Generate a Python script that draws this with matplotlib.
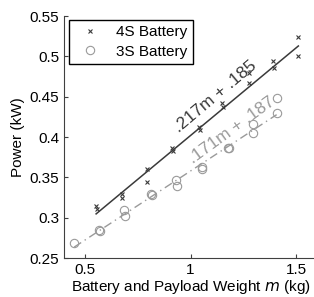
import numpy as np
import matplotlib
matplotlib.use('Agg')
import matplotlib.pyplot as plt

plt.rcParams['font.family'] = ['Liberation Sans', 'DejaVu Sans']

# 4S battery measurements (mass kg, power kW)
m4 = [0.552, 0.555, 0.674, 0.674, 0.792, 0.792, 0.914, 0.916, 1.042, 1.044,
      1.148, 1.152, 1.279, 1.279, 1.392, 1.394, 1.511, 1.511]
p4 = [0.315, 0.311, 0.329, 0.324, 0.361, 0.344, 0.386, 0.383, 0.413, 0.409,
      0.442, 0.437, 0.479, 0.467, 0.494, 0.485, 0.524, 0.500]

# 3S battery measurements
m3 = [0.448, 0.566, 0.570, 0.686, 0.688, 0.814, 0.818, 0.931, 0.936, 1.053,
      1.056, 1.177, 1.181, 1.298, 1.298, 1.408, 1.408]
p3 = [0.269, 0.285, 0.283, 0.309, 0.302, 0.330, 0.328, 0.347, 0.339, 0.363,
      0.360, 0.387, 0.386, 0.416, 0.405, 0.448, 0.430]

fit4 = (0.217, 0.185)
fit3 = (0.171, 0.187)

fig = plt.figure(figsize=(3.14, 2.97), dpi=100)
ax = fig.add_axes([0.204, 0.131, 0.806, 0.815])

c4 = '#3a3a3a'
c3 = '#9a9a9a'

ax.plot(m4, p4, 'x', color=c4, ms=3.5, mew=0.8, label='4S Battery')
ax.plot(m3, p3, 'o', color=c3, ms=6, mfc='none', mew=0.8, label='3S Battery')

x4 = np.array([min(m4), max(m4)])
ax.plot(x4, fit4[0] * x4 + fit4[1], '-', color=c4, lw=1.1)
x3 = np.array([min(m3), max(m3)])
ax.plot(x3, fit3[0] * x3 + fit3[1], '-.', color=c3, lw=1.0, dashes=(6, 3, 1, 3))

ax.text(1.115, 0.450, '.217m + .185', rotation=40, color=c4, fontsize=12.5,
        ha='center', va='center', rotation_mode='anchor')
ax.text(1.195, 0.409, '.171m + .187', rotation=36, color=c3, fontsize=12.5,
        ha='center', va='center', rotation_mode='anchor')

ax.set_xlim(0.4, 1.6)
ax.set_ylim(0.25, 0.55)
ax.set_xticks([0.5, 1, 1.5])
ax.set_xticklabels(['0.5', '1', '1.5'])
ax.set_yticks([0.25, 0.3, 0.35, 0.4, 0.45, 0.5, 0.55])
ax.set_yticklabels(['0.25', '0.3', '0.35', '0.4', '0.45', '0.5', '0.55'])
ax.tick_params(direction='in', length=3, width=0.8, labelsize=11, color='#404040')
for s in ['top', 'right']:
    ax.spines[s].set_visible(False)
for s in ['left', 'bottom']:
    ax.spines[s].set_color('#404040')
    ax.spines[s].set_linewidth(0.8)

ax.set_xlabel('Battery and Payload Weight $\\mathit{m}$ (kg)', fontsize=11, labelpad=1)
ax.set_ylabel('Power (kW)', fontsize=11, labelpad=3)

leg = ax.legend(loc='upper left', bbox_to_anchor=(0.015, 0.99), fontsize=11,
                fancybox=False, edgecolor='black', framealpha=1,
                borderpad=0.35, handletextpad=0.7, labelspacing=0.35,
                handlelength=2.0, borderaxespad=0.1)
leg.get_frame().set_linewidth(1.0)

fig.savefig('out.png', dpi=100)
